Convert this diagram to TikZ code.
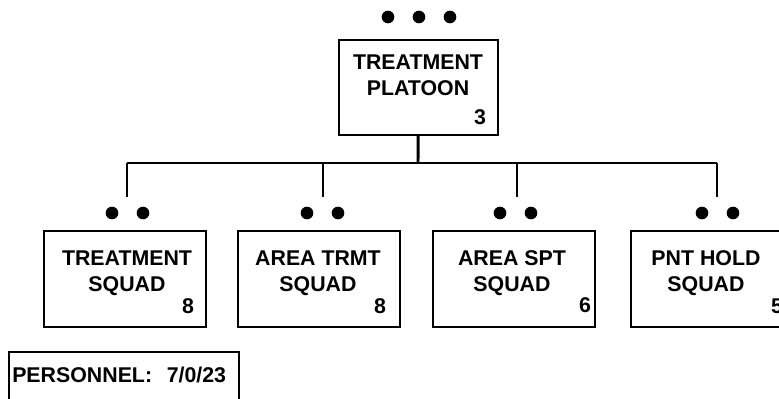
\documentclass[tikz,border=0pt]{standalone}
\usepackage{fontspec}
\setmainfont{Liberation Sans}
\usetikzlibrary{positioning}
\tikzset{unitbox/.style={draw, line width=1.6pt, minimum width=121pt, minimum height=72pt, inner sep=0pt},
	unitname/.style={align=center, inner sep=0pt},
	dot/.style={circle, fill, draw=none, inner sep=0pt, minimum size=9.5pt},
	link/.style={line width=2.2pt}}

\begin{document}
\begin{tikzpicture}
  [x=0.75pt,y=-0.75pt,every node/.style={font=\bfseries\fontsize{16}{19.5}\selectfont}]
  \useasboundingbox (0,0) rectangle (779,399);
  % platoon
  \node[unitbox, minimum width=119pt, minimum height=71pt] (plt) at (418.5,87.5) {};
  \node[unitname] (pltname) at (418,75) {TREATMENT\\PLATOON};
  \node[inner sep=0pt] (pltnum) at (480,117) {3};
  \foreach \x [count=\i] in {388,419,450}
    \node[dot] (pd\i) at (\x,17) {};
  \coordinate (bar) at (418,163);
  \draw[link] (plt) -- (bar);
  % squads
  \foreach \bx/\tx/\dx/\lx/\name [count=\i] in
    {125/127/112/127/{TREATMENT\\SQUAD},
     319/318/307/323/{AREA TRMT\\SQUAD},
     514/512/500/517/{AREA SPT\\SQUAD},
     712/706/702/717/{PNT HOLD\\SQUAD}}
  {
    \node[unitbox] (sq\i) at (\bx,279) {};
    \node[unitname] (sqname\i) at (\tx,273) {\name};
    \node[dot] (sqa\i) at (\dx,213) {};
    \node[dot] (sqb\i) at (\dx+31,213) {};
    \coordinate (t\i) at (\lx,163);
    \coordinate (b\i) at (\lx,197);
  }
  \node[inner sep=0pt] (n1) at (188,306) {8};
  \node[inner sep=0pt] (n2) at (380,306) {8};
  \node[inner sep=0pt] (n3) at (585,305) {6};
  \node[inner sep=0pt] (n4) at (777,306) {5};
  \draw[link] (t1) -- (t4);
  \foreach \i in {1,...,4}
    \draw[link] (t\i) -- (b\i);
  % personnel
  \node[draw, line width=1.6pt, minimum width=172.5pt, minimum height=43.5pt, inner sep=0pt] (pers) at (124,381) {};
  \node[anchor=west, inner sep=0pt] (perstext) at (12,375) {PERSONNEL:\hspace{11pt}7/0/23};
\end{tikzpicture}
\end{document}
